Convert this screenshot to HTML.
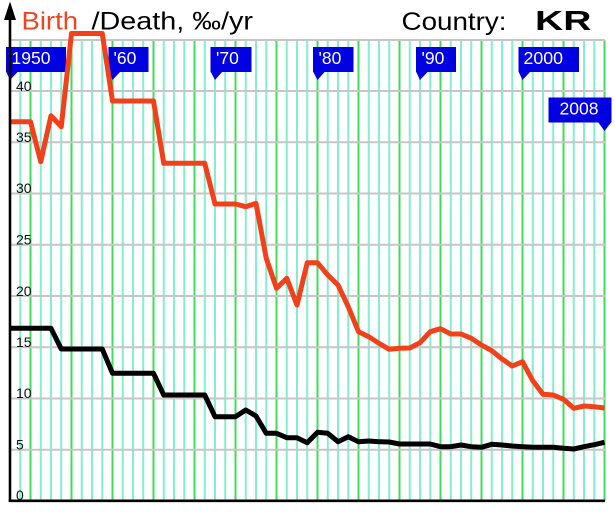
<!DOCTYPE html>
<html>
<head>
<meta charset="utf-8">
<style>
html,body{margin:0;padding:0;background:#fff;}
svg{display:block;}
</style>
</head>
<body>
<svg width="615" height="512" viewBox="0 0 615 512" xmlns="http://www.w3.org/2000/svg">
<rect width="615" height="512" fill="#fff"/>
<g stroke-width="2">
<g stroke="#84eed0">
<line x1="20.25" y1="40" x2="20.25" y2="501"/>
<line x1="40.75" y1="40" x2="40.75" y2="501"/>
<line x1="51" y1="40" x2="51" y2="501"/>
<line x1="61.25" y1="40" x2="61.25" y2="501"/>
<line x1="81.75" y1="40" x2="81.75" y2="501"/>
<line x1="92" y1="40" x2="92" y2="501"/>
<line x1="102.25" y1="40" x2="102.25" y2="501"/>
<line x1="122.75" y1="40" x2="122.75" y2="501"/>
<line x1="133" y1="40" x2="133" y2="501"/>
<line x1="143.25" y1="40" x2="143.25" y2="501"/>
<line x1="163.75" y1="40" x2="163.75" y2="501"/>
<line x1="174" y1="40" x2="174" y2="501"/>
<line x1="184.25" y1="40" x2="184.25" y2="501"/>
<line x1="204.75" y1="40" x2="204.75" y2="501"/>
<line x1="215" y1="40" x2="215" y2="501"/>
<line x1="225.25" y1="40" x2="225.25" y2="501"/>
<line x1="245.75" y1="40" x2="245.75" y2="501"/>
<line x1="256" y1="40" x2="256" y2="501"/>
<line x1="266.25" y1="40" x2="266.25" y2="501"/>
<line x1="286.75" y1="40" x2="286.75" y2="501"/>
<line x1="297" y1="40" x2="297" y2="501"/>
<line x1="307.25" y1="40" x2="307.25" y2="501"/>
<line x1="327.75" y1="40" x2="327.75" y2="501"/>
<line x1="338" y1="40" x2="338" y2="501"/>
<line x1="348.25" y1="40" x2="348.25" y2="501"/>
<line x1="368.75" y1="40" x2="368.75" y2="501"/>
<line x1="379" y1="40" x2="379" y2="501"/>
<line x1="389.25" y1="40" x2="389.25" y2="501"/>
<line x1="409.75" y1="40" x2="409.75" y2="501"/>
<line x1="420" y1="40" x2="420" y2="501"/>
<line x1="430.25" y1="40" x2="430.25" y2="501"/>
<line x1="450.75" y1="40" x2="450.75" y2="501"/>
<line x1="461" y1="40" x2="461" y2="501"/>
<line x1="471.25" y1="40" x2="471.25" y2="501"/>
<line x1="491.75" y1="40" x2="491.75" y2="501"/>
<line x1="502" y1="40" x2="502" y2="501"/>
<line x1="512.25" y1="40" x2="512.25" y2="501"/>
<line x1="532.75" y1="40" x2="532.75" y2="501"/>
<line x1="543" y1="40" x2="543" y2="501"/>
<line x1="553.25" y1="40" x2="553.25" y2="501"/>
<line x1="573.75" y1="40" x2="573.75" y2="501"/>
<line x1="584" y1="40" x2="584" y2="501"/>
<line x1="594.25" y1="40" x2="594.25" y2="501"/>
</g>
<g stroke="#3ddc5c">
<line x1="30.5" y1="40" x2="30.5" y2="501"/>
<line x1="71.5" y1="40" x2="71.5" y2="501"/>
<line x1="112.5" y1="40" x2="112.5" y2="501"/>
<line x1="153.5" y1="40" x2="153.5" y2="501"/>
<line x1="194.5" y1="40" x2="194.5" y2="501"/>
<line x1="235.5" y1="40" x2="235.5" y2="501"/>
<line x1="276.5" y1="40" x2="276.5" y2="501"/>
<line x1="317.5" y1="40" x2="317.5" y2="501"/>
<line x1="358.5" y1="40" x2="358.5" y2="501"/>
<line x1="399.5" y1="40" x2="399.5" y2="501"/>
<line x1="440.5" y1="40" x2="440.5" y2="501"/>
<line x1="481.5" y1="40" x2="481.5" y2="501"/>
<line x1="522.5" y1="40" x2="522.5" y2="501"/>
<line x1="563.5" y1="40" x2="563.5" y2="501"/>
<line x1="604.5" y1="40" x2="604.5" y2="501"/>
</g>
<g stroke="#c6c6c6">
<line x1="10" y1="40" x2="605" y2="40"/>
<line x1="10" y1="91" x2="605" y2="91"/>
<line x1="10" y1="142.25" x2="605" y2="142.25"/>
<line x1="10" y1="193.5" x2="605" y2="193.5"/>
<line x1="10" y1="244.75" x2="605" y2="244.75"/>
<line x1="10" y1="296" x2="605" y2="296"/>
<line x1="10" y1="347.25" x2="605" y2="347.25"/>
<line x1="10" y1="398.5" x2="605" y2="398.5"/>
<line x1="10" y1="449.75" x2="605" y2="449.75"/>
</g>
</g>

<g font-family="'Liberation Sans', sans-serif" font-size="14" fill="#111">
<text x="16" y="91">40</text>
<text x="16" y="142">35</text>
<text x="16" y="193">30</text>
<text x="16" y="244.5">25</text>
<text x="16" y="296">20</text>
<text x="16" y="347">15</text>
<text x="16" y="398">10</text>
<text x="16" y="449.5">5</text>
<text x="16" y="500">0</text>
</g>

<g fill="#0000e0">
<rect x="6" y="47" width="60" height="25"/>
<polygon points="6,71.5 18,71.5 10,80"/>
<rect x="108.5" y="47" width="40" height="25"/>
<polygon points="108.5,71.5 120.5,71.5 112.5,80"/>
<rect x="210.5" y="47" width="41" height="25"/>
<polygon points="210.5,71.5 222.5,71.5 215,80"/>
<rect x="313" y="47" width="40.5" height="25"/>
<polygon points="313,71.5 325,71.5 317.5,80"/>
<rect x="416" y="47" width="40" height="25"/>
<polygon points="416,71.5 428,71.5 420,80"/>
<rect x="518.5" y="47" width="60.5" height="25"/>
<polygon points="518.5,71.5 530.5,71.5 522.5,80"/>
<rect x="548.5" y="97.5" width="63" height="25"/>
<polygon points="598,122 611.5,122 604.5,131"/>
</g>
<g font-family="'Liberation Sans', sans-serif" font-size="17.5" fill="#fff">
<text x="11.5" y="64" textLength="39" lengthAdjust="spacingAndGlyphs">1950</text>
<text x="113.5" y="64">'60</text>
<text x="216" y="64">'70</text>
<text x="318.5" y="64">'80</text>
<text x="421.5" y="64">'90</text>
<text x="523.5" y="64" textLength="39.5" lengthAdjust="spacingAndGlyphs">2000</text>
<text x="559.5" y="114.5" textLength="39" lengthAdjust="spacingAndGlyphs">2008</text>
</g>

<polyline fill="none" stroke="#000" stroke-width="5" stroke-linejoin="round" points="10,328.3 20.25,328.3 30.5,328.3 40.75,328.3 51,328.3 61.25,349 71.5,349 81.75,349 92,349 102.25,349 112.5,373.3 122.75,373.3 133,373.3 143.25,373.3 153.5,373.3 163.75,395 174,395 184.25,395 194.5,395 204.75,395 215,416.7 225.25,416.7 235.5,416.7 245.75,410 256,416 266.25,433.3 276.5,433.3 286.75,437.7 297,437.7 307.25,442.7 317.5,432.3 327.75,433.3 338,441.7 348.25,436.7 358.5,441.7 368.75,441 379,441.7 389.25,442 399.5,444 409.75,444 420,444 430.25,444 440.5,446.7 450.75,446.7 461,445 471.25,446.7 481.5,447.3 491.75,444.3 502,445 512.25,446 522.5,446.7 532.75,447.3 543,447.3 553.25,447.3 563.5,448.3 573.75,449 584,446.7 594.25,444.7 604.5,442.3"/>

<polyline fill="none" stroke="#f2401a" stroke-width="5" stroke-linejoin="round" points="10,121.7 20.25,121.7 30.5,121.7 40.75,161.7 51,115.7 61.25,126.7 71.5,33.5 81.75,33.5 92,33.5 102.25,33.5 112.5,101 122.75,101 133,101 143.25,101 153.5,101 163.75,163.3 174,163.3 184.25,163.3 194.5,163.3 204.75,163.3 215,204 225.25,204 235.5,204 245.75,206.7 256,203.3 266.25,258.3 276.5,288.3 286.75,278.3 297,305 307.25,262.7 317.5,262.7 327.75,275 338,285 348.25,306.7 358.5,331.7 368.75,336.7 379,343.3 389.25,349.3 399.5,348.3 409.75,348 420,342.7 430.25,331.7 440.5,328.7 450.75,334 461,334 471.25,338.3 481.5,345 491.75,350.7 502,359 512.25,366 522.5,361.7 532.75,380.7 543,394.3 553.25,395 563.5,399.3 573.75,408.3 584,406 594.25,406.7 604.5,408"/>

<line x1="10" y1="18" x2="10" y2="502" stroke="#000" stroke-width="2.6"/>
<line x1="8.7" y1="500.8" x2="605" y2="500.8" stroke="#000" stroke-width="2.6"/>
<polygon points="10,1.5 4,20 16,20" fill="#000"/>

<g font-family="'Liberation Sans', sans-serif" font-size="25">
<text x="21.5" y="29.5" fill="#ee4422" textLength="56.5" lengthAdjust="spacingAndGlyphs">Birth</text>
<text x="91.5" y="29.5" fill="#000" textLength="161.5" lengthAdjust="spacingAndGlyphs">/Death, ‰/yr</text>
<text x="401.5" y="30" fill="#000" textLength="105" lengthAdjust="spacingAndGlyphs">Country:</text>
<text x="535" y="30" fill="#000" font-weight="bold" font-size="28" textLength="56.5" lengthAdjust="spacingAndGlyphs">KR</text>
</g>
</svg>
</body>
</html>
